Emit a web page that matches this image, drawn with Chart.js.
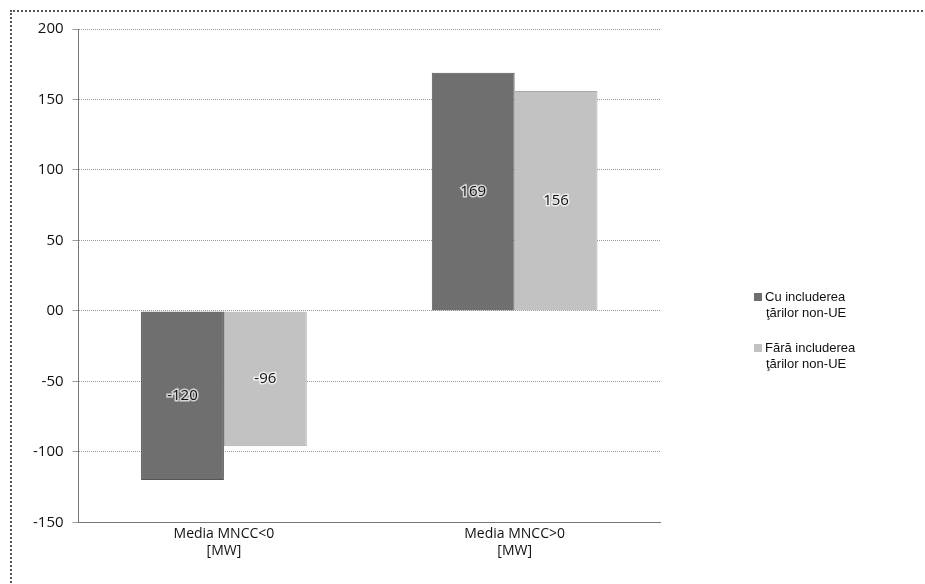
<!DOCTYPE html>
<html lang="ro">
<head>
  <meta charset="UTF-8">
  <title>Media MNCC</title>
  <script src="https://cdn.jsdelivr.net/npm/chart.js"></script>
  <style>
    body {
      margin: 0;
      background: #fff;
      font-family: "Liberation Sans", Arial, sans-serif;
    }
    .frame {
      position: absolute;
      left: 10px;
      top: 10px;
      width: 915px;
      height: 574px;
      border-left: 2px dotted #555;
      border-top: 2px dotted #555;
    }
    #wrap {
      position: absolute;
      left: 0;
      top: 0;
      width: 925px;
      height: 584px;
    }
    .legend {
      position: absolute;
      left: 754px;
      font-size: 13px;
      line-height: 16px;
      color: #111;
    }
    .legend .box {
      display: inline-block;
      width: 8px;
      height: 8px;
      margin-right: 3px;
    }
    .legend .line2 { padding-left: 12px; }
  </style>
</head>
<body>
  <div class="frame"></div>
  <div id="wrap"><canvas id="mncc"></canvas></div>

  <div class="legend" style="top:289px">
    <div><span class="box" style="background:#6f6f6f"></span>Cu includerea</div>
    <div class="line2">ţărilor non-UE</div>
  </div>
  <div class="legend" style="top:340px">
    <div><span class="box" style="background:#c2c2c2"></span>Fără includerea</div>
    <div class="line2">ţărilor non-UE</div>
  </div>

  <script>
    const categories = [['Media MNCC<0', '[MW]'], ['Media MNCC>0', '[MW]']];
    const seriesNames = ['Cu includerea ţărilor non-UE', 'Fără includerea ţărilor non-UE'];
    const cuNonUE = [-120, 169];
    const faraNonUE = [-96, 156];

    // values written in the middle of each bar
    const barLabels = {
      id: 'barLabels',
      afterDatasetsDraw(chart) {
        const c = chart.ctx;
        c.save();
        c.font = '15px "Open Sans", sans-serif';
        c.textAlign = 'center';
        c.textBaseline = 'middle';
        chart.data.datasets.forEach((ds, i) => {
          chart.getDatasetMeta(i).data.forEach((bar, j) => {
            const y = (bar.y + bar.base) / 2;
            c.lineWidth = 3;
            c.strokeStyle = 'rgba(255,255,255,0.7)';
            c.strokeText(ds.data[j], bar.x, y);
            c.fillStyle = '#111';
            c.fillText(ds.data[j], bar.x, y);
          });
        });
        c.restore();
      }
    };

    new Chart(document.getElementById('mncc'), {
      type: 'bar',
      data: {
        labels: categories,
        datasets: [
          {
            label: seriesNames[0],
            data: cuNonUE,
            backgroundColor: '#6f6f6f',
            borderColor: '#555',
            borderWidth: 1
          },
          {
            label: seriesNames[1],
            data: faraNonUE,
            backgroundColor: '#c2c2c2',
            borderColor: '#aaa',
            borderWidth: 1
          }
        ]
      },
      options: {
        responsive: true,
        maintainAspectRatio: false,
        animation: false,
        layout: {
          padding: { left: 24, top: 29, right: 265, bottom: 22 }
        },
        datasets: {
          bar: { barPercentage: 1, categoryPercentage: 0.57 }
        },
        plugins: {
          legend: { display: false },
          tooltip: { enabled: false }
        },
        scales: {
          x: {
            grid: { display: false, drawTicks: false },
            border: { color: '#777', dash: [1, 1] },
            ticks: {
              color: '#111',
              padding: 3,
              font: { family: '"Open Sans", sans-serif', size: 14 }
            }
          },
          y: {
            min: -150,
            max: 200,
            grid: {
              color: '#999',
              tickLength: 6,
              tickColor: '#999'
            },
            border: { color: '#777', dash: [1, 1] },
            ticks: {
              stepSize: 50,
              color: '#111',
              padding: 9,
              font: { family: '"Open Sans", sans-serif', size: 15 },
              callback: v => v === 0 ? '00' : v
            }
          }
        }
      },
      plugins: [barLabels]
    });
  </script>
</body>
</html>
